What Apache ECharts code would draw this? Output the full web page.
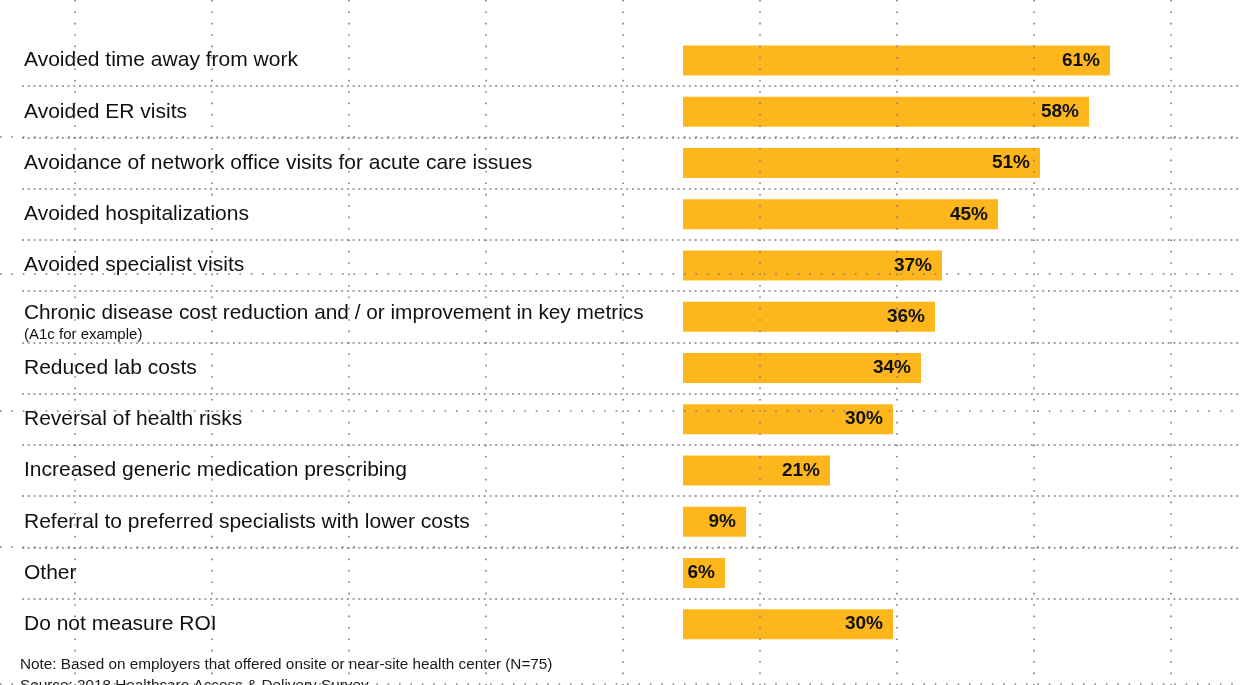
<!DOCTYPE html>
<html>
<head>
<meta charset="utf-8">
<script src="https://cdn.jsdelivr.net/npm/echarts@6/dist/echarts.min.js"></script>
<style>
  html, body { margin: 0; padding: 0; background: #ffffff; }
  #chart { width: 1241px; height: 685px; }
</style>
</head>
<body>
<div id="chart"></div>
<script>
const categories = [
  'Avoided time away from work',
  'Avoided ER visits',
  'Avoidance of network office visits for acute care issues',
  'Avoided hospitalizations',
  'Avoided specialist visits',
  'Chronic disease cost reduction and / or improvement in key metrics',
  'Reduced lab costs',
  'Reversal of health risks',
  'Increased generic medication prescribing',
  'Referral to preferred specialists with lower costs',
  'Other',
  'Do not measure ROI'
];
const values = [61, 58, 51, 45, 37, 36, 34, 30, 21, 9, 6, 30];
const subLabels = {
  'Chronic disease cost reduction and / or improvement in key metrics': '(A1c for example)'
};
const noteLines = [
  'Note: Based on employers that offered onsite or near-site health center (N=75)',
  'Source: 2018 Healthcare Access & Delivery Survey'
];

const FONT = '"Liberation Sans", Arial, sans-serif';
const chart = echarts.init(document.getElementById('chart'), null, { renderer: 'canvas' });

const rowTop = 35, rowHeight = 614.8;
const gridDots = { color: '#7d7d7d', width: 1.6, type: [1.6, 9.8] };

const option = {
  backgroundColor: '#ffffff',
  animation: false,
  textStyle: { fontFamily: FONT },
  title: [
    { text: noteLines[0], left: 20, top: 657, padding: 0, textStyle: { fontFamily: FONT, fontSize: 15.3, fontWeight: 'normal', color: '#1a1a1a' } },
    { text: noteLines[1], left: 20, top: 678, padding: 0, textStyle: { fontFamily: FONT, fontSize: 15.3, fontWeight: 'normal', color: '#1a1a1a' } }
  ],
  grid: [
    { left: 75, right: 0, top: 0, bottom: 0, containLabel: false },
    { left: 0, right: 0, top: 0, height: 684, containLabel: false },
    { left: 22, right: 0, top: rowTop, height: rowHeight, containLabel: false },
    { left: 683, right: 68, top: rowTop, height: rowHeight, containLabel: false }
  ],
  xAxis: [
    {
      gridIndex: 0, type: 'value', min: 0, max: 1166 / 137, interval: 1, z: 10,
      axisLine: { show: false }, axisTick: { show: false }, axisLabel: { show: false },
      splitLine: { show: true, showMinLine: true, showMaxLine: false, lineStyle: gridDots }
    },
    { gridIndex: 1, type: 'value', min: 0, max: 1, show: false },
    { gridIndex: 2, type: 'value', min: 0, max: 1, show: false },
    { gridIndex: 3, type: 'value', min: 0, max: 70, show: false }
  ],
  yAxis: [
    { gridIndex: 0, type: 'value', min: 0, max: 1, show: false },
    {
      gridIndex: 1, type: 'value', min: 0, max: 5, interval: 1, z: 10,
      axisLine: { show: false }, axisTick: { show: false }, axisLabel: { show: false },
      splitLine: { show: true, showMinLine: true, showMaxLine: false, lineStyle: gridDots }
    },
    {
      gridIndex: 2, type: 'category', inverse: true, data: categories,
      axisLine: { show: false }, axisTick: { show: false }, axisLabel: { show: false },
      splitLine: { show: true, showMinLine: false, showMaxLine: false, lineStyle: { color: '#a3a3a3', width: 2, type: [2, 3.7] } }
    },
    {
      gridIndex: 3, type: 'category', inverse: true, data: categories,
      axisLine: { show: false }, axisTick: { show: false }, splitLine: { show: false },
      axisLabel: {
        show: true, margin: 659, align: 'left', fontFamily: FONT, fontSize: 21, color: '#111',
        formatter: function (v) {
          if (subLabels[v]) {
            return '{a|' + v + '}\n{s|' + subLabels[v] + '}';
          }
          return v;
        },
        rich: {
          a: { fontFamily: FONT, fontSize: 20.8, color: '#111', lineHeight: 36 },
          s: { fontFamily: FONT, fontSize: 15, color: '#111', lineHeight: 8 }
        }
      }
    }
  ],
  series: [
    {
      type: 'bar', xAxisIndex: 3, yAxisIndex: 3, data: values, barWidth: 30,
      itemStyle: { color: '#FDB71C' },
      label: {
        show: true, position: 'insideRight', distance: 10,
        formatter: '{c}%', fontFamily: FONT, fontWeight: 'bold', fontSize: 19, color: '#111'
      }
    }
  ]
};
chart.setOption(option);
</script>
</body>
</html>
